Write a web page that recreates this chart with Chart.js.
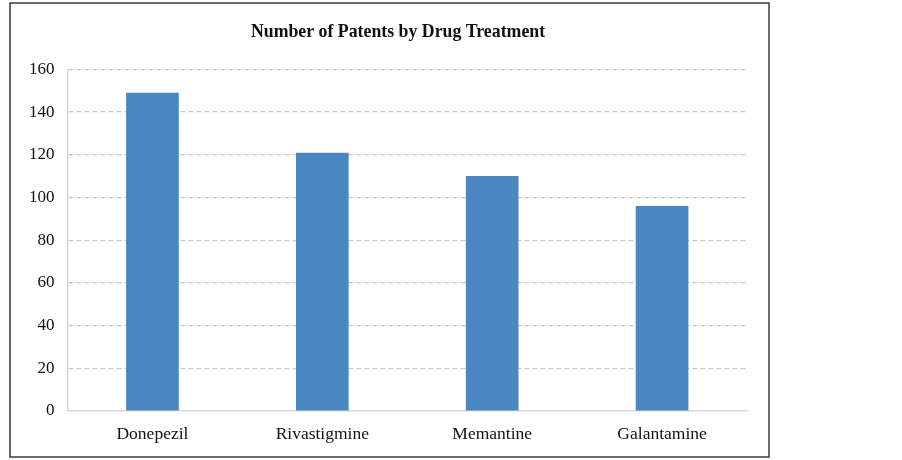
<!DOCTYPE html>
<html>
<head>
<meta charset="utf-8">
<script src="https://cdn.jsdelivr.net/npm/chart.js@4/dist/chart.umd.min.js"></script>
<style>
    html, body { margin: 0; padding: 0; background: #fff; }
    #wrap { width: 902px; height: 460px; position: relative; }
</style>
</head>
<body>
<div id="wrap"><canvas id="patentChart"></canvas></div>
<script>
// Values
const drugs = ['Donepezil', 'Rivastigmine', 'Memantine', 'Galantamine'];
const patentCounts = [149, 121, 110, 96];
const yTicks = [0, 20, 40, 60, 80, 100, 120, 140, 160];

// Thin dark frame round the chart, and the title nudged right like the figure
const framePlugin = {
    id: 'frame',
    afterLayout(chart) {
        if (chart.titleBlock) {
            chart.titleBlock.left = 49;
        }
    },
    beforeDraw(chart) {
        const c = chart.ctx;
        c.save();
        c.fillStyle = '#fff';
        c.fillRect(0, 0, chart.width, chart.height);
        c.strokeStyle = '#3a3a3a';
        c.lineWidth = 1.5;
        c.strokeRect(10, 3, 759, 454);
        c.restore();
    }
};

const ctx = document.getElementById('patentChart').getContext('2d');
new Chart(ctx, {
    type: 'bar',
    data: {
        labels: drugs,
        datasets: [{
            label: 'Number of Patents',
            data: patentCounts,
            backgroundColor: '#4a86c0',
            borderWidth: 0,
            categoryPercentage: 1,
            barPercentage: 0.31
        }]
    },
    options: {
        responsive: true,
        maintainAspectRatio: false,
        animation: false,
        layout: {
            padding: { left: 16, right: 155, top: 22, bottom: 2 }
        },
        plugins: {
            legend: { display: false },
            tooltip: { enabled: false },
            title: {
                display: true,
                text: 'Number of Patents by Drug Treatment',
                color: '#111',
                font: { family: 'Liberation Serif', size: 17.8, weight: 'bold' },
                padding: { top: 0, bottom: 26 }
            }
        },
        scales: {
            x: {
                grid: { display: false, drawTicks: false },
                border: { display: true, color: '#d9d9d9', width: 1.5 },
                ticks: {
                    color: '#111',
                    padding: 13,
                    font: { family: 'Liberation Serif', size: 17.5 }
                }
            },
            y: {
                min: 0,
                max: 160,
                afterBuildTicks(scale) {
                    scale.ticks = yTicks.map(v => ({ value: v }));
                },
                grid: {
                    drawTicks: false,
                    color: c => (c.tick && c.tick.value === 0) ? 'rgba(0,0,0,0)' : '#c8c8c8',
                    lineWidth: 1.2
                },
                border: { display: true, color: '#d9d9d9', width: 1.5, dash: [5, 3] },
                ticks: {
                    color: '#111',
                    padding: 13,
                    font: { family: 'Liberation Serif', size: 17 }
                }
            }
        }
    },
    plugins: [framePlugin]
});
</script>
</body>
</html>
